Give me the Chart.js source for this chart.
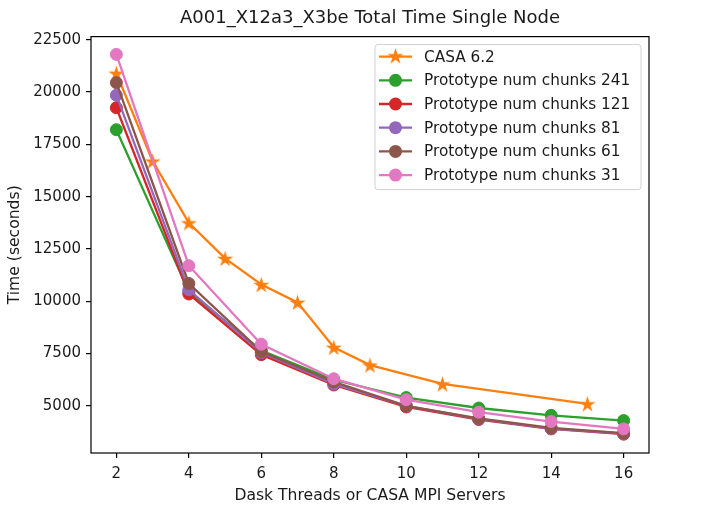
<!DOCTYPE html>
<html>
<head>
<meta charset="utf-8">
<script src="https://cdn.jsdelivr.net/npm/chart.js@4"></script>
<style>
  html, body { margin: 0; padding: 0; background: #fff; }
  #wrap { width: 720px; height: 512px; }
</style>
</head>
<body>
<div id="wrap"><canvas id="timeChart" width="720" height="512"></canvas></div>
<script>
// values
const threads = [2, 4, 6, 8, 10, 12, 14, 16];
const casaThreads = [2, 3, 4, 5, 6, 7, 8, 9, 11, 15];
const casaTime = [20900, 16700, 13750, 12050, 10800, 9950, 7800, 6950, 6050, 5100];
const chunks241 = [18200, 10450, 7650, 6250, 5400, 4900, 4550, 4300];
const chunks121 = [19250, 10350, 7450, 6000, 4950, 4350, 3900, 3650];
const chunks81 = [19850, 10550, 7550, 6050, 5000, 4380, 3920, 3680];
const chunks61 = [20450, 10850, 7600, 6150, 5000, 4400, 3950, 3700];
const chunks31 = [21800, 11700, 7950, 6300, 5300, 4700, 4250, 3900];
const xTicks = [2, 4, 6, 8, 10, 12, 14, 16];
const yTicks = [5000, 7500, 10000, 12500, 15000, 17500, 20000, 22500];

Chart.defaults.font.family = "'DejaVu Sans', sans-serif";
Chart.defaults.color = "#1a1a1a";

// filled five point star like matplotlib's '*' marker
function makeStar(color, size) {
  const c = document.createElement("canvas");
  c.width = size; c.height = size;
  const g = c.getContext("2d");
  const cx = size / 2, cy = size / 2 + 0.8, R = size / 2, r = R * 0.38;
  g.beginPath();
  for (let i = 0; i < 10; i++) {
    const rad = i % 2 ? r : R;
    const a = -Math.PI / 2 + i * Math.PI / 5;
    g.lineTo(cx + rad * Math.cos(a), cy + rad * Math.sin(a));
  }
  g.closePath();
  g.fillStyle = color;
  g.fill();
  return c;
}
const star = makeStar("#ff7f0e", 17);

function pts(xs, ys) {
  return xs.map((x, i) => ({ x: x, y: ys[i] }));
}

const series = [
  { label: "CASA 6.2", color: "#ff7f0e", data: pts(casaThreads, casaTime), star: true },
  { label: "Prototype num chunks 241", color: "#2ca02c", data: pts(threads, chunks241) },
  { label: "Prototype num chunks 121", color: "#d62728", data: pts(threads, chunks121) },
  { label: "Prototype num chunks 81", color: "#9467bd", data: pts(threads, chunks81) },
  { label: "Prototype num chunks 61", color: "#8c564b", data: pts(threads, chunks61) },
  { label: "Prototype num chunks 31", color: "#e377c2", data: pts(threads, chunks31) }
];

const datasets = series.map((s, i) => ({
  label: s.label,
  data: s.data,
  borderColor: s.color,
  backgroundColor: s.color,
  borderWidth: 2.3,
  pointStyle: s.star ? star : "circle",
  pointRadius: 6,
  pointBorderWidth: 1,
  pointBorderColor: s.color,
  pointBackgroundColor: s.color,
  tension: 0,
  order: 6 - i
}));

// frame on all four sides
const framePlugin = {
  id: "frame",
  afterDraw(chart) {
    const a = chart.chartArea, ctx = chart.ctx;
    ctx.save();
    ctx.strokeStyle = "#000";
    ctx.lineWidth = 1.2;
    ctx.strokeRect(a.left, a.top, a.right - a.left, a.bottom - a.top);
    ctx.restore();
  }
};

// matplotlib style legend in the upper right corner
const legendPlugin = {
  id: "mplLegend",
  afterDatasetsDraw(chart) {
    const ctx = chart.ctx, a = chart.chartArea;
    const x0 = a.right - 274, y0 = a.top + 8, w = 266, h = 145;
    ctx.save();
    ctx.fillStyle = "rgba(255,255,255,0.85)";
    ctx.strokeStyle = "#d0d0d0";
    ctx.lineWidth = 1;
    ctx.beginPath();
    ctx.roundRect(x0, y0, w, h, 3);
    ctx.fill();
    ctx.stroke();
    ctx.font = "15.3px 'DejaVu Sans'";
    ctx.textBaseline = "middle";
    series.forEach((s, i) => {
      const y = y0 + 12 + i * 23.7;
      ctx.strokeStyle = s.color;
      ctx.lineWidth = 2.3;
      ctx.beginPath();
      ctx.moveTo(x0 + 4, y);
      ctx.lineTo(x0 + 37, y);
      ctx.stroke();
      if (s.star) {
        ctx.drawImage(star, x0 + 20.5 - 8.5, y - 9.3);
      } else {
        ctx.fillStyle = s.color;
        ctx.beginPath();
        ctx.arc(x0 + 20.5, y, 6.5, 0, Math.PI * 2);
        ctx.fill();
      }
      ctx.fillStyle = "#1a1a1a";
      ctx.fillText(s.label, x0 + 49, y + 1);
    });
    ctx.restore();
  }
};

new Chart(document.getElementById("timeChart"), {
  type: "line",
  data: { datasets: datasets },
  plugins: [framePlugin, legendPlugin],
  options: {
    responsive: false,
    animation: false,
    layout: { padding: { left: 0, right: 71, top: 0, bottom: 0 } },
    plugins: {
      legend: { display: false },
      tooltip: { enabled: false },
      title: {
        display: true,
        text: "A001_X12a3_X3be Total Time Single Node",
        fullSize: false,
        font: { size: 18, weight: "normal" },
        color: "#1a1a1a",
        padding: { top: 8, bottom: 7 }
      }
    },
    scales: {
      x: {
        type: "linear",
        min: 1.3,
        max: 16.7,
        afterBuildTicks: (axis) => { axis.ticks = xTicks.map(v => ({ value: v })); },
        afterFit: (axis) => { axis.height = 59; },
        border: { display: false },
        grid: { drawOnChartArea: false, drawTicks: true, tickLength: 5, color: "#000", lineWidth: 1.2 },
        ticks: { font: { size: 15 }, padding: 7, maxRotation: 0, callback: v => String(v) },
        title: {
          display: true,
          text: "Dask Threads or CASA MPI Servers",
          font: { size: 15.6 },
          padding: { top: 0, bottom: 7 }
        }
      },
      y: {
        type: "linear",
        min: 2750,
        max: 22650,
        afterBuildTicks: (axis) => { axis.ticks = yTicks.map(v => ({ value: v })); },
        afterFit: (axis) => { axis.width = 91; },
        border: { display: false },
        grid: { drawOnChartArea: false, drawTicks: true, tickLength: 5, color: "#000", lineWidth: 1.2 },
        ticks: { font: { size: 15 }, padding: 5, callback: v => String(v) },
        title: {
          display: true,
          text: "Time (seconds)",
          font: { size: 15.6 },
          padding: { top: 6, bottom: 0 }
        }
      }
    }
  }
});
</script>
</body>
</html>
